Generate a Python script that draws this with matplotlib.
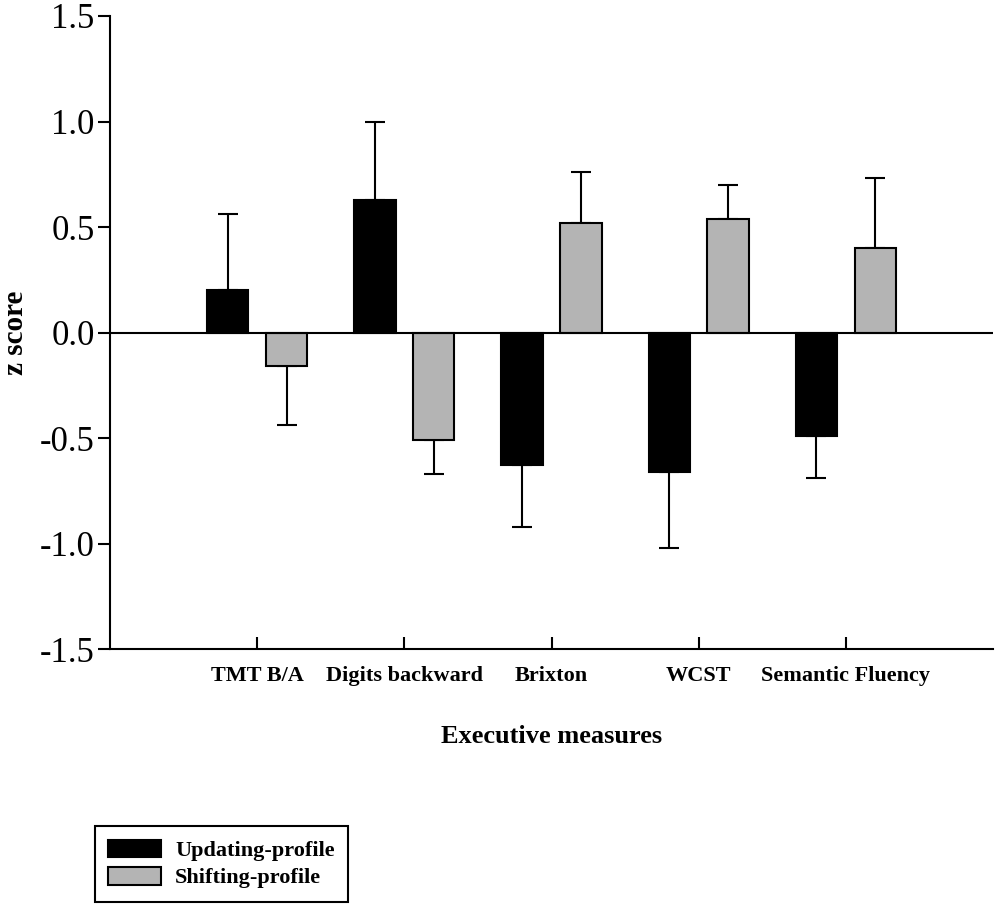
import matplotlib
matplotlib.use("Agg")
import matplotlib.pyplot as plt
import numpy as np

categories = ["TMT B/A", "Digits backward", "Brixton", "WCST", "Semantic Fluency"]
updating_mean = [0.20, 0.63, -0.63, -0.66, -0.49]
updating_err = [0.36, 0.37, 0.29, 0.36, 0.20]
shifting_mean = [-0.16, -0.51, 0.52, 0.54, 0.40]
shifting_err = [0.28, 0.16, 0.24, 0.16, 0.33]
yticks = [-1.5, -1.0, -0.5, 0.0, 0.5, 1.0, 1.5]
series_names = ["Updating-profile", "Shifting-profile"]

plt.rcParams['font.family'] = ['Liberation Serif', 'DejaVu Serif']

fig = plt.figure(figsize=(10, 9.09), dpi=100)
ax = fig.add_axes([0.110, 0.286, 0.883, 0.6964])

x = np.arange(1, len(categories) + 1)
w = 0.28
off = 0.2

def one_sided(vals, errs):
    lo = [e if v < 0 else 0 for v, e in zip(vals, errs)]
    hi = [e if v >= 0 else 0 for v, e in zip(vals, errs)]
    return [lo, hi]

b1 = ax.bar(x - off, updating_mean, w, color='black', edgecolor='black', linewidth=1.5,
            label=series_names[0], zorder=2)
b2 = ax.bar(x + off, shifting_mean, w, color='#b4b4b4', edgecolor='black', linewidth=1.5,
            label=series_names[1], zorder=2)
ax.errorbar(x - off, updating_mean, yerr=one_sided(updating_mean, updating_err), fmt='none',
            ecolor='black', elinewidth=1.5, capsize=7, capthick=1.5, zorder=1)
ax.errorbar(x + off, shifting_mean, yerr=one_sided(shifting_mean, shifting_err), fmt='none',
            ecolor='black', elinewidth=1.5, capsize=7, capthick=1.5, zorder=1)

ax.axhline(0, color='black', linewidth=1.5, zorder=3)

ax.set_xlim(0, 6)
ax.set_ylim(-1.5, 1.5)
ax.set_yticks(yticks)
ax.set_yticklabels([f"{t:.1f}" for t in yticks], fontsize=25)
ax.set_xticks(x)
ax.set_xticklabels(categories, fontsize=16, fontweight='bold')
ax.tick_params(axis='y', direction='out', length=9, width=1.5, pad=2)
ax.tick_params(axis='x', direction='in', length=9, width=1.5, pad=12)

for s in ['top', 'right']:
    ax.spines[s].set_visible(False)
for s in ['left', 'bottom']:
    ax.spines[s].set_linewidth(1.5)

ax.set_xlabel("Executive measures", fontsize=19, fontweight='bold', labelpad=28)
ax.set_ylabel("z score", fontsize=21, fontweight='bold', labelpad=8)

leg = fig.legend(handles=[b1, b2], labels=series_names, loc='lower left',
                 bbox_to_anchor=(0.095, 0.008), fancybox=False, edgecolor='black',
                 framealpha=1, prop={'size': 16, 'weight': 'bold'},
                 handlelength=2.35, handleheight=0.85, labelspacing=0.25,
                 borderpad=0.6, handletextpad=0.65, borderaxespad=0)
leg.get_frame().set_linewidth(1.5)

fig.savefig("out.png", dpi=100)
